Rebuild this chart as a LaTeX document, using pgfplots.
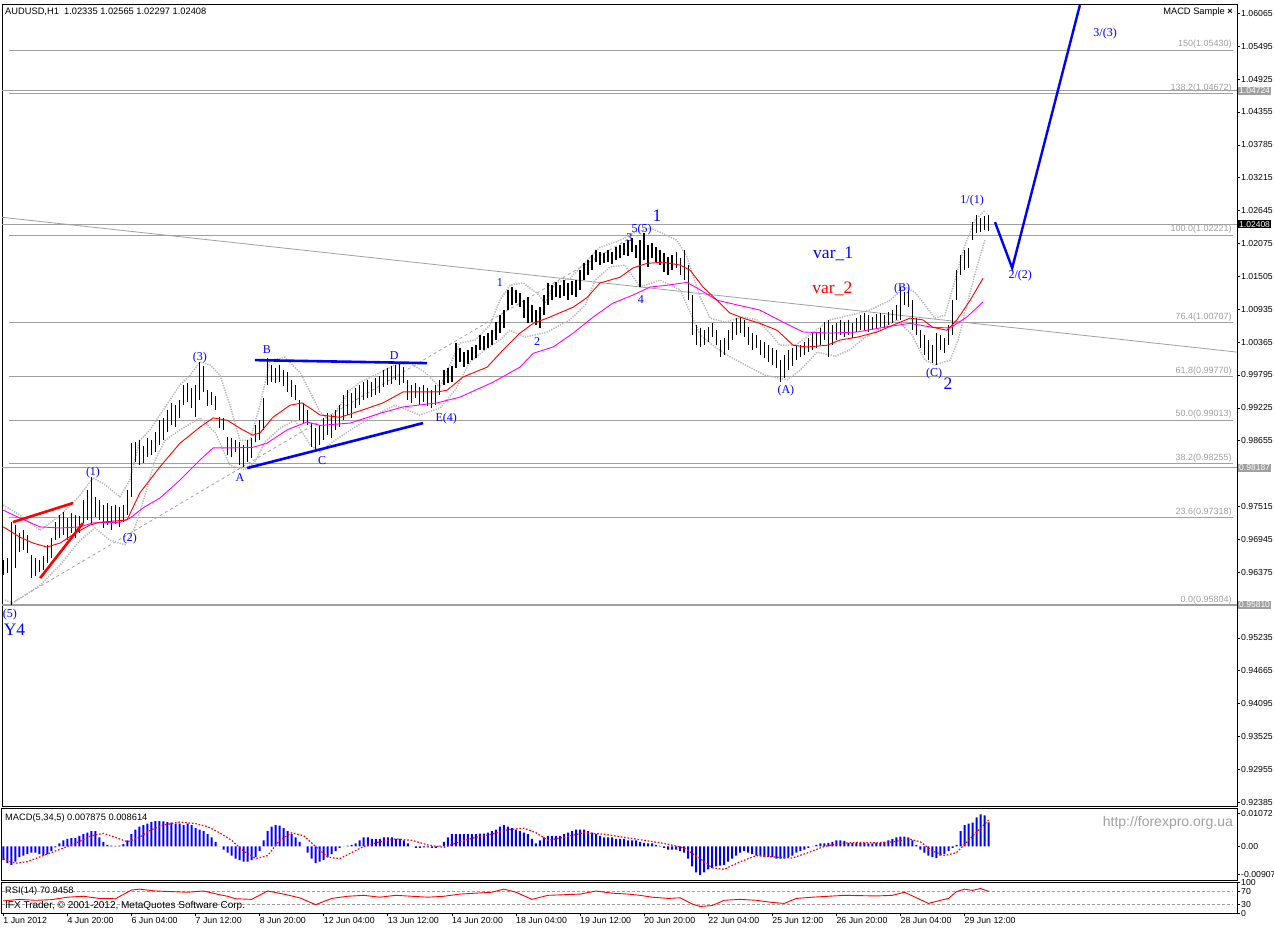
\documentclass[border=0pt]{standalone}
\usepackage{fontspec}
\setmainfont{Liberation Sans}
\newfontfamily\tms{Liberation Serif}
\usepackage{pgfplots}
\usepackage{pgfplotstable}
\pgfplotsset{compat=1.18}
\newcommand{\fs}[1]{\fontsize{#1}{#1}\selectfont}
\definecolor{fib}{RGB}{160,160,160}
\definecolor{bandgray}{RGB}{185,185,185}
\definecolor{mtblue}{RGB}{0,0,255}
\definecolor{mtred}{RGB}{255,0,0}
\definecolor{mtmag}{RGB}{255,0,255}

% H1 bars, two hours per row: high, low
\pgfplotstableread[row sep=\\]{
i h l\\
0 0.9659 0.9632\\ 1 0.9662 0.9636\\ 2 0.9724 0.9580\\ 3 0.9719 0.9645\\ 4 0.9705 0.9672\\
5 0.9710 0.9676\\ 6 0.9702 0.9671\\ 7 0.9667 0.9627\\ 8 0.9662 0.9631\\ 9 0.9659 0.9638\\
10 0.9665 0.9641\\ 11 0.9685 0.9653\\ 12 0.9697 0.9662\\ 13 0.9724 0.9693\\ 14 0.9736 0.9697\\
15 0.9742 0.9702\\ 16 0.9731 0.9693\\ 17 0.9740 0.9705\\ 18 0.9736 0.9697\\ 19 0.9735 0.9705\\
20 0.9762 0.9723\\ 21 0.9780 0.9728\\ 22 0.9802 0.9719\\ 23 0.9768 0.9733\\ 24 0.9762 0.9728\\
25 0.9754 0.9714\\ 26 0.9757 0.9719\\ 27 0.9752 0.9710\\ 28 0.9754 0.9721\\ 29 0.9750 0.9716\\
30 0.9754 0.9724\\ 31 0.9780 0.9736\\ 32 0.9861 0.9768\\ 33 0.9863 0.9828\\ 34 0.9866 0.9823\\
35 0.9856 0.9827\\ 36 0.9870 0.9837\\ 37 0.9866 0.9840\\ 38 0.9880 0.9846\\ 39 0.9901 0.9858\\
40 0.9905 0.9866\\ 41 0.9919 0.9880\\ 42 0.9931 0.9892\\ 43 0.9927 0.9889\\ 44 0.9936 0.9905\\
45 0.9962 0.9927\\ 46 0.9965 0.9932\\ 47 0.9957 0.9922\\ 48 0.9962 0.9906\\ 49 1.0002 0.9936\\
50 0.9995 0.9950\\ 51 0.9953 0.9925\\ 52 0.9950 0.9927\\ 53 0.9943 0.9919\\ 54 0.9906 0.9887\\
55 0.9905 0.9884\\ 56 0.9872 0.9840\\ 57 0.9870 0.9837\\ 58 0.9866 0.9846\\ 59 0.9863 0.9823\\
60 0.9858 0.9820\\ 61 0.9866 0.9828\\ 62 0.9870 0.9835\\ 63 0.9892 0.9863\\ 64 0.9901 0.9866\\
65 0.9939 0.9884\\ 66 1.0009 0.9962\\ 67 0.9997 0.9967\\ 68 0.9991 0.9965\\ 69 0.9997 0.9967\\
70 0.9988 0.9960\\ 71 0.9984 0.9950\\ 72 0.9971 0.9941\\ 73 0.9962 0.9936\\ 74 0.9936 0.9901\\
75 0.9931 0.9896\\ 76 0.9919 0.9892\\ 77 0.9896 0.9854\\ 78 0.9887 0.9849\\ 79 0.9892 0.9858\\
80 0.9905 0.9866\\ 81 0.9913 0.9875\\ 82 0.9910 0.9870\\ 83 0.9919 0.9884\\ 84 0.9927 0.9889\\
85 0.9945 0.9901\\ 86 0.9953 0.9910\\ 87 0.9948 0.9905\\ 88 0.9957 0.9922\\ 89 0.9962 0.9927\\
90 0.9967 0.9936\\ 91 0.9971 0.9939\\ 92 0.9967 0.9941\\ 93 0.9974 0.9945\\ 94 0.9977 0.9948\\
95 0.9988 0.9958\\ 96 0.9991 0.9962\\ 97 0.9995 0.9964\\ 98 0.9997 0.9971\\ 99 1.0000 0.9962\\
100 0.9993 0.9965\\ 101 0.9971 0.9936\\ 102 0.9962 0.9931\\ 103 0.9965 0.9939\\ 104 0.9958 0.9927\\
105 0.9962 0.9932\\ 106 0.9957 0.9926\\ 107 0.9953 0.9922\\ 108 0.9962 0.9927\\ 109 0.9971 0.9945\\
110 0.9988 0.9962\\ 111 0.9991 0.9965\\ 112 0.9995 0.9967\\ 113 1.0035 0.9991\\ 114 1.0026 1.0002\\
115 1.0019 0.9993\\ 116 1.0023 0.9998\\ 117 1.0028 1.0005\\ 118 1.0031 1.0009\\ 119 1.0049 1.0023\\
120 1.0047 1.0023\\ 121 1.0052 1.0026\\ 122 1.0057 1.0031\\ 123 1.0071 1.0040\\ 124 1.0083 1.0052\\
125 1.0092 1.0061\\ 126 1.0127 1.0092\\ 127 1.0132 1.0101\\ 128 1.0127 1.0104\\ 129 1.0121 1.0097\\
130 1.0109 1.0078\\ 131 1.0114 1.0069\\ 132 1.0101 1.0071\\ 133 1.0092 1.0066\\ 134 1.0097 1.0061\\
135 1.0118 1.0083\\ 136 1.0139 1.0101\\ 137 1.0135 1.0109\\ 138 1.0140 1.0114\\ 139 1.0135 1.0113\\
140 1.0144 1.0116\\ 141 1.0139 1.0109\\ 142 1.0142 1.0118\\ 143 1.0144 1.0114\\ 144 1.0161 1.0127\\
145 1.0173 1.0144\\ 146 1.0179 1.0153\\ 147 1.0187 1.0161\\ 148 1.0196 1.0175\\ 149 1.0193 1.0170\\
150 1.0191 1.0173\\ 151 1.0196 1.0175\\ 152 1.0193 1.0172\\ 153 1.0201 1.0179\\ 154 1.0205 1.0182\\
155 1.0208 1.0187\\ 156 1.0213 1.0186\\ 157 1.0217 1.0193\\ 158 1.0205 1.0182\\ 159 1.0213 1.0132\\
160 1.0225 1.0179\\ 161 1.0205 1.0166\\ 162 1.0208 1.0182\\ 163 1.0201 1.0175\\ 164 1.0196 1.0170\\
165 1.0191 1.0158\\ 166 1.0184 1.0153\\ 167 1.0187 1.0161\\ 168 1.0193 1.0165\\ 169 1.0182 1.0153\\
170 1.0196 1.0144\\ 171 1.0170 1.0109\\ 172 1.0118 1.0049\\ 173 1.0066 1.0031\\ 174 1.0061 1.0028\\
175 1.0057 1.0031\\ 176 1.0062 1.0036\\ 177 1.0069 1.0045\\ 178 1.0057 1.0031\\ 179 1.0040 1.0010\\
180 1.0043 1.0014\\ 181 1.0057 1.0023\\ 182 1.0071 1.0040\\ 183 1.0078 1.0049\\ 184 1.0080 1.0052\\
185 1.0075 1.0045\\ 186 1.0062 1.0031\\ 187 1.0052 1.0023\\ 188 1.0049 1.0026\\ 189 1.0040 1.0014\\
190 1.0036 1.0009\\ 191 1.0031 1.0002\\ 192 1.0026 0.9997\\ 193 1.0023 0.9991\\ 194 1.0005 0.9967\\
195 1.0014 0.9974\\ 196 1.0023 0.9988\\ 197 1.0026 0.9995\\ 198 1.0031 1.0005\\ 199 1.0031 1.0010\\
200 1.0036 1.0014\\ 201 1.0043 1.0019\\ 202 1.0052 1.0023\\ 203 1.0054 1.0026\\ 204 1.0061 1.0031\\
205 1.0071 1.0040\\ 206 1.0075 1.0010\\ 207 1.0066 1.0031\\ 208 1.0069 1.0040\\ 209 1.0075 1.0049\\
210 1.0071 1.0045\\ 211 1.0075 1.0049\\ 212 1.0069 1.0043\\ 213 1.0078 1.0054\\ 214 1.0083 1.0057\\
215 1.0087 1.0057\\ 216 1.0083 1.0054\\ 217 1.0080 1.0057\\ 218 1.0085 1.0061\\ 219 1.0087 1.0062\\
220 1.0083 1.0061\\ 221 1.0088 1.0066\\ 222 1.0092 1.0069\\ 223 1.0101 1.0075\\ 224 1.0132 1.0075\\
225 1.0123 1.0101\\ 226 1.0127 1.0097\\ 227 1.0109 1.0057\\ 228 1.0078 1.0049\\ 229 1.0057 1.0026\\
230 1.0049 1.0014\\ 231 1.0040 1.0005\\ 232 1.0031 1.0000\\ 233 1.0052 0.9997\\ 234 1.0049 1.0023\\
235 1.0043 1.0017\\ 236 1.0066 1.0031\\ 237 1.0109 1.0049\\ 238 1.0161 1.0109\\ 239 1.0187 1.0153\\
240 1.0196 1.0161\\ 241 1.0199 1.0165\\ 242 1.0245 1.0213\\ 243 1.0257 1.0226\\ 244 1.0251 1.0227\\
245 1.0255 1.0231\\ 246 1.0257 1.0229\\
}\bars

% moving averages and bands
\pgfplotstableread[row sep=\\]{
i v\\
0 0.9716\\ 4.2 0.9698\\ 7.4 0.9688\\ 10.9 0.9681\\ 14.2 0.9688\\ 18.4 0.9707\\ 21.6 0.9719\\
24.1 0.9724\\ 30.9 0.9728\\ 34.1 0.9775\\ 39.1 0.9820\\ 44.1 0.9861\\ 49.1 0.9889\\ 52.4 0.9905\\
55.9 0.9901\\ 59.1 0.9887\\ 62.3 0.9875\\ 64.1 0.9879\\ 67.3 0.9906\\ 71.6 0.9927\\ 74.6 0.9931\\
76.6 0.9922\\ 79.1 0.9910\\ 84.1 0.9906\\ 89.8 0.9919\\ 94.8 0.9931\\ 99.8 0.9950\\ 108.3 0.9950\\
110.8 0.9953\\ 114.8 0.9976\\ 120.8 0.9993\\ 124.8 1.0023\\ 129.0 1.0052\\ 132.3 1.0069\\
135.8 1.0078\\ 142.3 1.0097\\ 145.8 1.0114\\ 149.0 1.0139\\ 154.0 1.0149\\ 157.2 1.0165\\
160.7 1.0173\\ 164.7 1.0175\\ 169.0 1.0170\\ 171.5 1.0161\\ 174.7 1.0132\\ 178.2 1.0109\\
181.4 1.0087\\ 184.7 1.0078\\ 188.9 1.0069\\ 193.2 1.0057\\ 197.2 1.0031\\ 200.7 1.0028\\
205.7 1.0031\\ 208.9 1.0040\\ 213.2 1.0045\\ 218.2 1.0054\\ 223.2 1.0069\\ 226.4 1.0078\\
229.6 1.0075\\ 232.1 1.0062\\ 235.6 1.0057\\ 238.1 1.0075\\ 241.4 1.0109\\ 244.6 1.0147\\
}\mared

\pgfplotstableread[row sep=\\]{
i v\\
0 0.9745\\ 4.2 0.9731\\ 9.2 0.9716\\ 14.2 0.9714\\ 19.2 0.9716\\ 22.4 0.9723\\ 29.1 0.9724\\
31.6 0.9731\\ 34.9 0.9749\\ 39.1 0.9766\\ 44.1 0.9797\\ 49.1 0.9832\\ 52.4 0.9853\\ 57.4 0.9853\\
62.3 0.9854\\ 65.8 0.9861\\ 70.8 0.9884\\ 75.8 0.9898\\ 79.1 0.9892\\ 86.6 0.9896\\ 94.1 0.9913\\
99.8 0.9924\\ 108.3 0.9931\\ 114.0 0.9941\\ 122.3 0.9967\\ 129.0 0.9993\\ 132.3 1.0017\\
137.3 1.0028\\ 142.3 1.0052\\ 147.3 1.0080\\ 152.2 1.0104\\ 157.2 1.0118\\ 161.5 1.0132\\
165.7 1.0135\\ 170.7 1.0140\\ 174.0 1.0127\\ 178.2 1.0109\\ 183.2 1.0101\\ 188.9 1.0092\\
194.7 1.0071\\ 199.7 1.0054\\ 206.4 1.0052\\ 213.2 1.0054\\ 219.7 1.0062\\ 226.4 1.0069\\
232.1 1.0062\\ 236.4 1.0061\\ 240.6 1.0080\\ 244.6 1.0106\\
}\mamag

\pgfplotstableread[row sep=\\]{
i v\\
0 0.9754\\ 4.2 0.9736\\ 9.2 0.9710\\ 14.2 0.9736\\ 19.2 0.9771\\ 22.4 0.9801\\ 25.4 0.9789\\
29.1 0.9768\\ 31.6 0.9797\\ 34.1 0.9866\\ 36.6 0.9884\\ 39.1 0.9910\\ 41.6 0.9936\\ 44.1 0.9962\\
46.6 0.9979\\ 49.1 1.0002\\ 51.6 0.9997\\ 54.1 0.9979\\ 56.6 0.9927\\ 59.1 0.9866\\ 61.6 0.9866\\
64.1 0.9927\\ 66.6 1.0005\\ 70.3 1.0010\\ 74.1 0.9984\\ 76.6 0.9950\\ 79.1 0.9915\\ 81.6 0.9901\\
84.1 0.9927\\ 86.6 0.9953\\ 89.1 0.9967\\ 92.8 0.9979\\ 97.8 0.9997\\ 101.6 1.0000\\ 105.3 0.9984\\
109.0 0.9958\\ 111.5 0.9997\\ 114.0 1.0035\\ 117.8 1.0040\\ 121.5 1.0066\\ 124.0 1.0109\\
126.5 1.0135\\ 129.8 1.0139\\ 133.3 1.0121\\ 135.3 1.0104\\ 137.8 1.0139\\ 141.5 1.0147\\
145.3 1.0175\\ 149.0 1.0201\\ 154.0 1.0213\\ 157.7 1.0227\\ 161.5 1.0234\\ 164.7 1.0225\\
168.2 1.0213\\ 170.7 1.0184\\ 174.0 1.0114\\ 176.5 1.0078\\ 180.2 1.0071\\ 184.7 1.0080\\
188.2 1.0075\\ 191.4 1.0052\\ 193.9 1.0031\\ 197.7 1.0031\\ 201.4 1.0049\\ 206.4 1.0075\\
211.4 1.0083\\ 216.4 1.0092\\ 221.4 1.0109\\ 225.2 1.0132\\ 227.6 1.0123\\ 230.1 1.0101\\
232.6 1.0078\\ 235.1 1.0083\\ 237.6 1.0144\\ 240.1 1.0205\\ 242.6 1.0248\\ 245.1 1.0265\\
}\bandup

\pgfplotstableread[row sep=\\]{
i v\\
0.4 0.9589\\ 2.4 0.9584\\ 9.2 0.9615\\ 14.2 0.9650\\ 19.2 0.9693\\ 22.9 0.9714\\ 26.6 0.9693\\
30.4 0.9685\\ 32.9 0.9716\\ 35.4 0.9771\\ 37.9 0.9832\\ 40.4 0.9866\\ 44.1 0.9884\\ 49.1 0.9905\\
52.9 0.9880\\ 56.6 0.9823\\ 60.3 0.9815\\ 62.8 0.9828\\ 65.3 0.9863\\ 69.1 0.9887\\ 72.8 0.9901\\
76.6 0.9858\\ 79.1 0.9846\\ 82.8 0.9866\\ 87.8 0.9889\\ 92.8 0.9910\\ 97.8 0.9927\\ 104.0 0.9910\\
109.0 0.9922\\ 112.8 0.9953\\ 116.5 1.0002\\ 120.3 1.0023\\ 124.0 1.0040\\ 126.5 1.0057\\
130.3 1.0045\\ 135.8 1.0054\\ 141.5 1.0075\\ 145.3 1.0101\\ 147.8 1.0144\\ 151.5 1.0167\\
155.2 1.0170\\ 159.0 1.0132\\ 164.0 1.0144\\ 169.0 1.0127\\ 174.0 1.0049\\ 177.7 1.0028\\
180.7 1.0014\\ 185.2 0.9997\\ 190.2 0.9979\\ 195.7 0.9971\\ 199.0 0.9988\\ 203.2 1.0019\\
207.7 1.0012\\ 211.4 1.0023\\ 215.2 1.0045\\ 219.7 1.0062\\ 223.2 1.0075\\ 226.9 1.0049\\
230.1 1.0005\\ 232.6 0.9997\\ 236.4 1.0005\\ 238.4 1.0040\\ 240.6 1.0101\\ 243.1 1.0167\\
245.1 1.0213\\
}\banddn

% MACD(5,34,5) histogram
\pgfplotstableread[row sep=\\]{
i v\\
0 -0.0045\\ 1 -0.0055\\ 2 -0.0060\\ 3 -0.0050\\ 4 -0.0035\\ 5 -0.0030\\ 6 -0.0025\\ 7 -0.0020\\
8 -0.0020\\ 9 -0.0025\\ 10 -0.0030\\ 11 -0.0025\\ 12 -0.0015\\ 13 -0.0003\\ 14 0.0010\\ 15 0.0020\\
16 0.0025\\ 17 0.0027\\ 18 0.0027\\ 19 0.0035\\ 20 0.0040\\ 21 0.0045\\ 22 0.0050\\ 23 0.0050\\
24 0.0030\\ 25 0.0015\\ 26 0.0005\\ 27 0.0003\\ 28 0.0002\\ 29 0.0003\\ 30 0.0008\\ 31 0.0020\\
32 0.0040\\ 33 0.0055\\ 34 0.0065\\ 35 0.0070\\ 36 0.0075\\ 37 0.0080\\ 38 0.0083\\ 39 0.0083\\
40 0.0082\\ 41 0.0080\\ 42 0.0078\\ 43 0.0075\\ 44 0.0075\\ 45 0.0070\\ 46 0.0075\\ 47 0.0070\\
48 0.0060\\ 49 0.0055\\ 50 0.0050\\ 51 0.0040\\ 52 0.0030\\ 53 0.0015\\ 54 0.0000\\ 55 -0.0010\\
56 -0.0020\\ 57 -0.0030\\ 58 -0.0040\\ 59 -0.0045\\ 60 -0.0050\\ 61 -0.0050\\ 62 -0.0045\\
63 -0.0035\\ 64 -0.0015\\ 65 0.0020\\ 66 0.0050\\ 67 0.0065\\ 68 0.0070\\ 69 0.0068\\ 70 0.0060\\
71 0.0050\\ 72 0.0040\\ 73 0.0030\\ 74 0.0015\\ 75 0.0000\\ 76 -0.0020\\ 77 -0.0040\\ 78 -0.0055\\
79 -0.0050\\ 80 -0.0045\\ 81 -0.0035\\ 82 -0.0025\\ 83 -0.0015\\ 84 -0.0005\\ 85 0.0000\\
86 0.0003\\ 87 0.0005\\ 88 0.0010\\ 89 0.0020\\ 90 0.0030\\ 91 0.0030\\ 92 0.0025\\ 93 0.0025\\
94 0.0025\\ 95 0.0030\\ 96 0.0030\\ 97 0.0030\\ 98 0.0025\\ 99 0.0025\\ 100 0.0020\\ 101 0.0010\\
102 0.0000\\ 103 -0.0005\\ 104 -0.0005\\ 105 -0.0003\\ 106 -0.0003\\ 107 -0.0005\\ 108 -0.0005\\
109 0.0003\\ 110 0.0015\\ 111 0.0030\\ 112 0.0040\\ 113 0.0040\\ 114 0.0040\\ 115 0.0040\\
116 0.0040\\ 117 0.0040\\ 118 0.0040\\ 119 0.0042\\ 120 0.0042\\ 121 0.0045\\ 122 0.0050\\
123 0.0055\\ 124 0.0065\\ 125 0.0070\\ 126 0.0065\\ 127 0.0060\\ 128 0.0055\\ 129 0.0050\\
130 0.0045\\ 131 0.0040\\ 132 0.0025\\ 133 0.0010\\ 134 0.0020\\ 135 0.0030\\ 136 0.0035\\
137 0.0035\\ 138 0.0035\\ 139 0.0035\\ 140 0.0040\\ 141 0.0045\\ 142 0.0050\\ 143 0.0055\\
144 0.0055\\ 145 0.0055\\ 146 0.0050\\ 147 0.0045\\ 148 0.0040\\ 149 0.0035\\ 150 0.0030\\
151 0.0030\\ 152 0.0030\\ 153 0.0025\\ 154 0.0025\\ 155 0.0025\\ 156 0.0020\\ 157 0.0020\\
158 0.0020\\ 159 0.0015\\ 160 0.0012\\ 161 0.0010\\ 162 0.0010\\ 163 0.0005\\ 164 0.0002\\
165 -0.0005\\ 166 -0.0010\\ 167 -0.0010\\ 168 -0.0010\\ 169 -0.0015\\ 170 -0.0020\\ 171 -0.0040\\
172 -0.0065\\ 173 -0.0085\\ 174 -0.0093\\ 175 -0.0085\\ 176 -0.0075\\ 177 -0.0070\\ 178 -0.0065\\
179 -0.0063\\ 180 -0.0060\\ 181 -0.0050\\ 182 -0.0040\\ 183 -0.0030\\ 184 -0.0020\\ 185 -0.0015\\
186 -0.0020\\ 187 -0.0025\\ 188 -0.0030\\ 189 -0.0030\\ 190 -0.0035\\ 191 -0.0035\\ 192 -0.0035\\
193 -0.0040\\ 194 -0.0040\\ 195 -0.0040\\ 196 -0.0035\\ 197 -0.0030\\ 198 -0.0020\\ 199 -0.0015\\
200 -0.0010\\ 201 -0.0005\\ 202 0.0000\\ 203 0.0005\\ 204 0.0010\\ 205 0.0010\\ 206 0.0012\\
207 0.0015\\ 208 0.0020\\ 209 0.0020\\ 210 0.0018\\ 211 0.0012\\ 212 0.0012\\ 213 0.0012\\
214 0.0012\\ 215 0.0012\\ 216 0.0010\\ 217 0.0010\\ 218 0.0012\\ 219 0.0012\\ 220 0.0015\\
221 0.0020\\ 222 0.0025\\ 223 0.0030\\ 224 0.0032\\ 225 0.0032\\ 226 0.0030\\ 227 0.0020\\
228 0.0005\\ 229 -0.0010\\ 230 -0.0020\\ 231 -0.0030\\ 232 -0.0035\\ 233 -0.0038\\ 234 -0.0030\\
235 -0.0025\\ 236 -0.0015\\ 237 -0.0005\\ 238 0.0005\\ 239 0.0050\\ 240 0.0070\\ 241 0.0075\\
242 0.0078\\ 243 0.0095\\ 244 0.0105\\ 245 0.0102\\ 246 0.0079\\
}\macd

\pgfplotstableread[row sep=\\]{
i v\\
0 -0.0040\\ 3 -0.0055\\ 6 -0.0050\\ 10 -0.0030\\ 14 -0.0010\\ 18 0.0010\\ 22 0.0035\\ 25 0.0043\\
28 0.0030\\ 31 0.0015\\ 34 0.0030\\ 37 0.0055\\ 40 0.0070\\ 44 0.0080\\ 48 0.0075\\ 51 0.0065\\
54 0.0045\\ 57 0.0020\\ 60 -0.0015\\ 63 -0.0040\\ 66 -0.0030\\ 69 0.0020\\ 72 0.0045\\ 75 0.0035\\
78 0.0000\\ 81 -0.0035\\ 84 -0.0040\\ 87 -0.0020\\ 90 0.0000\\ 94 0.0015\\ 98 0.0025\\ 102 0.0020\\
106 0.0005\\ 110 -0.0003\\ 114 0.0015\\ 118 0.0030\\ 122 0.0040\\ 126 0.0055\\ 130 0.0060\\
133 0.0045\\ 136 0.0020\\ 140 0.0030\\ 145 0.0045\\ 150 0.0040\\ 155 0.0030\\ 160 0.0020\\
165 0.0010\\ 170 -0.0005\\ 174 -0.0040\\ 177 -0.0070\\ 180 -0.0075\\ 184 -0.0050\\ 188 -0.0030\\
193 -0.0035\\ 197 -0.0038\\ 201 -0.0020\\ 205 0.0000\\ 209 0.0010\\ 213 0.0013\\ 218 0.0012\\
222 0.0015\\ 226 0.0025\\ 229 0.0015\\ 232 -0.0015\\ 235 -0.0030\\ 238 -0.0020\\ 241 0.0020\\
244 0.0060\\ 246 0.0086\\
}\signal

% RSI(14)
\pgfplotstableread[row sep=\\]{
i v\\
0 40\\ 4 45\\ 8 42\\ 12 44\\ 16 52\\ 20 55\\ 24 48\\ 28 47\\ 32 75\\ 34 78\\ 38 72\\ 42 70\\
46 68\\ 50 72\\ 54 60\\ 56 55\\ 58 47\\ 62 45\\ 66 72\\ 70 62\\ 74 50\\ 78 28\\ 82 48\\ 86 55\\
90 58\\ 94 52\\ 98 58\\ 102 55\\ 106 52\\ 110 55\\ 114 62\\ 118 65\\ 122 68\\ 125 78\\ 128 68\\
132 45\\ 136 58\\ 140 60\\ 144 62\\ 148 72\\ 152 65\\ 156 62\\ 159 58\\ 162 52\\ 166 48\\ 169 50\\
172 30\\ 174 22\\ 177 25\\ 180 42\\ 184 45\\ 188 42\\ 192 35\\ 195 32\\ 198 48\\ 202 52\\ 206 55\\
210 58\\ 214 57\\ 218 56\\ 222 58\\ 225 68\\ 228 50\\ 231 32\\ 234 42\\ 236 48\\ 238 70\\ 240 78\\
242 74\\ 244 80\\ 246 71\\
}\rsi

\tikzset{
  ew/.style={font=\tms\fs{12}, text=mtblue, inner sep=0pt},
  ewb/.style={font=\tms\fs{17.5}, text=mtblue, inner sep=0pt},
  fibl/.style={anchor=south east, inner sep=1pt, font=\fs{9}, text=fib},
  pbox/.style={anchor=west, fill=#1, text=white, inner sep=1pt, font=\fs{8.5}, xshift=1pt},
}
\pgfplotsset{
  mt/.style={
    scale only axis, width=1235pt, anchor=north west,
    xmin=-0.32, xmax=308.04, clip=false,
    axis line style={line width=1pt},
    tick align=outside, major tick length=3pt,
    tick style={line width=0.6pt, black},
    xtick=\empty, ytick pos=right, yticklabel pos=right,
    scaled ticks=false,
    yticklabel style={anchor=west, inner sep=1pt, font=\fs{8.7}},
  },
  hline/.style={fib, line width=0.8pt},
  bandln/.style={bandgray, line width=1.5pt, dash pattern=on 1.3pt off 1.2pt},
}

\begin{document}
\begin{tikzpicture}
\path[use as bounding box] (0pt,0pt) rectangle (1274pt,-930pt);

% price panel
\begin{axis}[mt, at={(2pt,-4pt)}, height=802pt, ymin=0.92319, ymax=1.06228,
  ytick={1.06065,1.05495,1.04925,1.04355,1.03785,1.03215,1.02645,1.02075,1.01505,1.00935,
         1.00365,0.99795,0.99225,0.98655,0.97515,0.96945,0.96375,0.95235,0.94665,0.94095,
         0.93525,0.92955,0.92385},
  yticklabels={1.06065,1.05495,1.04925,1.04355,1.03785,1.03215,1.02645,1.02075,1.01505,1.00935,
         1.00365,0.99795,0.99225,0.98655,0.97515,0.96945,0.96375,0.95235,0.94665,0.94095,
         0.93525,0.92955,0.92385}]
% fibonacci levels
\addplot[hline] coordinates {(1.4,1.05430) (307,1.05430)};
\addplot[hline] coordinates {(1.4,1.04672) (307,1.04672)};
\addplot[hline] coordinates {(1.4,1.02221) (307,1.02221)};
\addplot[hline] coordinates {(1.4,1.00707) (307,1.00707)};
\addplot[hline] coordinates {(1.4,0.99770) (307,0.99770)};
\addplot[hline] coordinates {(1.4,0.99013) (307,0.99013)};
\addplot[hline] coordinates {(1.4,0.98255) (307,0.98255)};
\addplot[hline] coordinates {(1.4,0.97318) (307,0.97318)};
\addplot[hline] coordinates {(1.4,0.95804) (307,0.95804)};
% horizontal lines and trend lines
\addplot[hline] coordinates {(-0.32,1.04724) (308.04,1.04724)};
\addplot[hline] coordinates {(-0.32,1.02408) (308.04,1.02408)};
\addplot[hline] coordinates {(-0.32,0.98187) (308.04,0.98187)};
\addplot[hline, line width=1.8pt] coordinates {(-0.32,0.95810) (308.04,0.95810)};
\addplot[hline] coordinates {(-0.32,1.02529) (308.04,1.00191)};
\addplot[fib, line width=0.8pt, dash pattern=on 3pt off 3pt] coordinates {(1.67,0.9582) (156.5,1.0217)};
% bands
\addplot[bandln] table[x=i,y=v] {\bandup};
\addplot[bandln] table[x=i,y=v] {\banddn};
% bars
\addplot[only marks, mark=*, mark size=0pt, mark options={draw=none, fill=none},
  error bars/.cd, y dir=minus, y explicit, error mark=none,
  error bar style={line width=1.3pt, black, solid}]
  table[x=i, y=h, y error minus expr=\thisrow{h}-\thisrow{l}] {\bars};
% moving averages
\addplot[mtmag, line width=0.9pt] table[x=i,y=v] {\mamag};
\addplot[mtred, line width=0.9pt] table[x=i,y=v] {\mared};
% wave lines
\addplot[mtred, line width=2.6pt] coordinates {(2.4,0.97243) (17.4,0.97573)};
\addplot[mtred, line width=2.6pt] coordinates {(9.2,0.96272) (19.9,0.97226)};
\addplot[mtblue, line width=2.6pt] coordinates {(62.8,1.00052) (105.8,1.00000)};
\addplot[mtblue, line width=2.6pt] coordinates {(60.9,0.98180) (104.8,0.98960)};
\addplot[mtblue, line width=2.4pt] coordinates {(247.6,1.02446) (251.9,1.01648) (268.8,1.06208)};
% fibo labels
\node[fibl] at (axis cs:307,1.05430) {150(1.05430)};
\node[fibl] at (axis cs:307,1.04672) {138.2(1.04672)};
\node[fibl] at (axis cs:307,1.02221) {100.0(1.02221)};
\node[fibl] at (axis cs:307,1.00707) {76.4(1.00707)};
\node[fibl] at (axis cs:307,0.99770) {61.8(0.99770)};
\node[fibl] at (axis cs:307,0.99013) {50.0(0.99013)};
\node[fibl] at (axis cs:307,0.98255) {38.2(0.98255)};
\node[fibl] at (axis cs:307,0.97318) {23.6(0.97318)};
\node[fibl] at (axis cs:307,0.95804) {0.0(0.95804)};
% price boxes on the scale
\node[pbox=fib] at (axis cs:308.04,1.04724) {1.04724};
\node[pbox=black] at (axis cs:308.04,1.02408) {1.02408};
\node[pbox=fib] at (axis cs:308.04,0.98187) {0.98187};
\node[pbox=fib] at (axis cs:308.04,0.95810) {0.95810};
% wave labels
\node[ew] at (axis cs:1.67,0.95640) {(5)};
\node[ewb] at (axis cs:2.8,0.95380) {Y4};
\node[ew] at (axis cs:22.4,0.98093) {(1)};
\node[ew] at (axis cs:31.6,0.96949) {(2)};
\node[ew] at (axis cs:49.1,1.00087) {(3)};
\node[ew] at (axis cs:59.1,0.98024) {A};
\node[ew] at (axis cs:65.8,1.00226) {B};
\node[ew] at (axis cs:79.6,0.98318) {C};
\node[ew] at (axis cs:97.6,1.00139) {D};
\node[ew] at (axis cs:110.6,0.99030) {E(4)};
\node[ew] at (axis cs:124.0,1.01405) {1};
\node[ew] at (axis cs:133.3,1.00382) {2};
\node[ew] at (axis cs:156.3,1.02185) {3};
\node[ew] at (axis cs:159.4,1.02310) {5(5)};
\node[ewb] at (axis cs:163.2,1.02560) {1};
\node[ew] at (axis cs:159.2,1.01110) {4};
\node[ewb] at (axis cs:207.2,1.01891) {var\_1};
\node[ewb, text=mtred] at (axis cs:207.0,1.01284) {var\_2};
\node[ew] at (axis cs:224.4,1.01284) {(B)};
\node[ew] at (axis cs:195.4,0.99515) {(A)};
\node[ew] at (axis cs:232.4,0.99810) {(C)};
\node[ewb] at (axis cs:235.9,0.99637) {2};
\node[ew] at (axis cs:241.9,1.02810) {1/(1)};
\node[ew] at (axis cs:253.9,1.01509) {2/(2)};
\node[ew] at (axis cs:275.1,1.05709) {3/(3)};
% captions
\node[anchor=west, font=\fs{9.3}, inner sep=0pt, xshift=3pt, yshift=-8pt] at (rel axis cs:0,1)
  {AUDUSD,H1\ \ 1.02335 1.02565 1.02297 1.02408};
\node[anchor=east, font=\fs{9.3}, inner sep=0pt, xshift=-4pt, yshift=-8pt] at (rel axis cs:1,1)
  {MACD Sample \textbf{×}};
\end{axis}

% MACD panel
\begin{axis}[mt, at={(2pt,-808.3pt)}, height=71.7pt, ymin=-0.011, ymax=0.0125,
  ytick={-0.00907,0,0.01072}, yticklabels={-0.00907,0.00,0.01072}]
\addplot[ybar, bar width=2pt, bar shift=0pt, fill=mtblue, draw=none] table[x=i,y=v] {\macd};
\addplot[mtred, line width=1.2pt, dash pattern=on 1.6pt off 1.8pt] table[x=i,y=v] {\signal};
\node[anchor=west, font=\fs{9.3}, inner sep=0pt, xshift=3pt, yshift=-10pt] at (rel axis cs:0,1)
  {MACD(5,34,5) 0.007875 0.008614};
\node[anchor=east, font=\fs{14}, text=fib, inner sep=0pt, xshift=-4pt, yshift=-15pt] at (rel axis cs:1,1)
  {http://forexpro.org.ua};
\end{axis}

% RSI panel
\begin{axis}[mt, at={(2pt,-882.3pt)}, height=31pt, ymin=0, ymax=100,
  ytick={0,30,70,100}, yticklabels={0,30,70,100},
  xtick={0,16,...,240}, xtick pos=left,
  xticklabels={1 Jun 2012,4 Jun 20:00,6 Jun 04:00,7 Jun 12:00,8 Jun 20:00,12 Jun 04:00,
    13 Jun 12:00,14 Jun 20:00,18 Jun 04:00,19 Jun 12:00,20 Jun 20:00,22 Jun 04:00,
    25 Jun 12:00,26 Jun 20:00,28 Jun 04:00,29 Jun 12:00},
  xticklabel style={anchor=north west, inner sep=1pt, font=\fs{8.8}, xshift=-1pt}]
\addplot[fib, line width=0.6pt, dash pattern=on 3pt off 2pt] coordinates {(-0.32,70) (307,70)};
\addplot[fib, line width=0.6pt, dash pattern=on 3pt off 2pt] coordinates {(-0.32,30) (307,30)};
\addplot[mtred, line width=0.9pt] table[x=i,y=v] {\rsi};
\node[anchor=west, font=\fs{9.3}, inner sep=0pt, xshift=3pt, yshift=-9pt] at (rel axis cs:0,1)
  {RSI(14) 70.9458};
\node[anchor=west, font=\fs{10}, inner sep=0pt, xshift=3pt, yshift=-24pt] at (rel axis cs:0,1)
  {IFX Trader, © 2001-2012, MetaQuotes Software Corp.};
\end{axis}
\end{tikzpicture}
\end{document}
